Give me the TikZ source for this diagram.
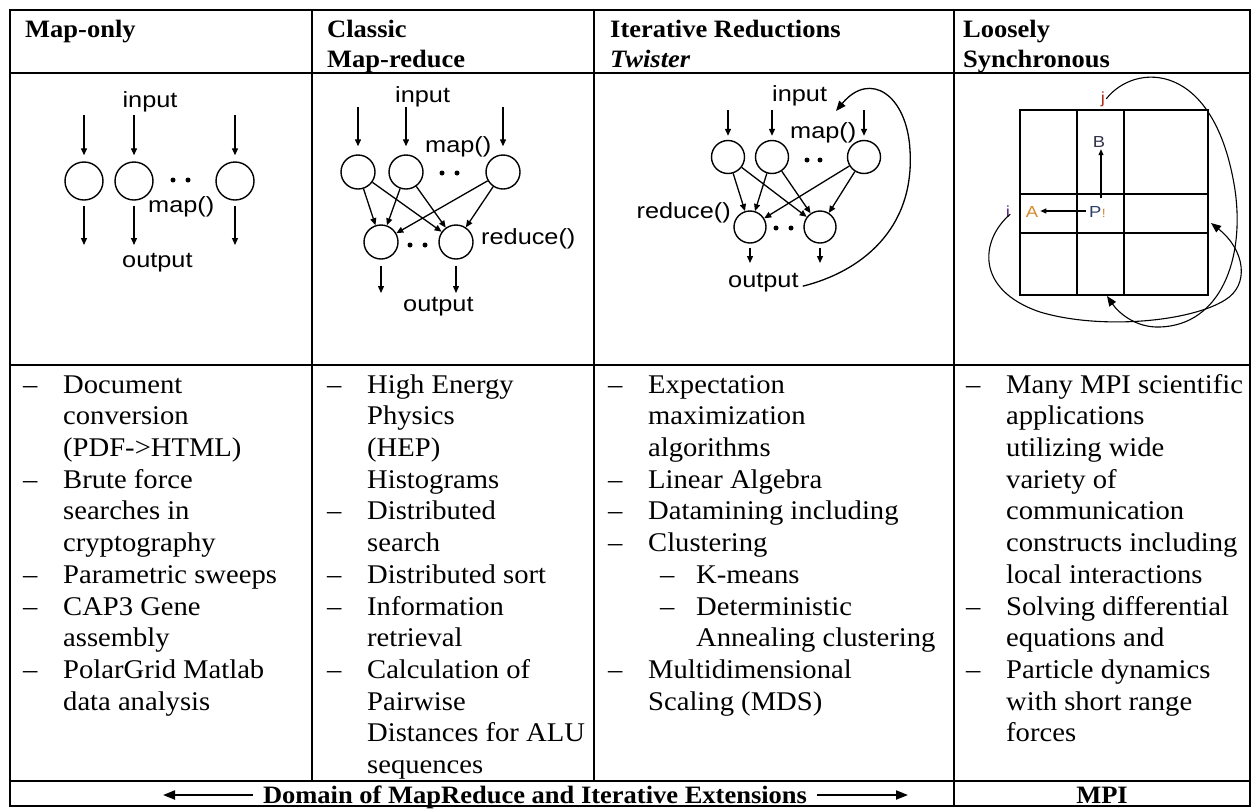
\documentclass[tikz,border=0pt]{standalone}
\usepackage{fontspec}
\setmainfont{Liberation Serif}[FakeStretch=1.06]
\newfontfamily\lblfont{Liberation Sans}[FakeStretch=1.15]
\usetikzlibrary{arrows.meta}

\definecolor{jred}{HTML}{B03020}
\definecolor{ipurple}{HTML}{5B2A86}
\definecolor{aorange}{HTML}{D4892A}
\definecolor{bnavy}{HTML}{33334D}
\definecolor{pnavy}{HTML}{2E3F6E}

\tikzset{
  tbl/.style={line width=2pt, line cap=rect},
  gridline/.style={line width=1.1pt},
  circ/.style={circle, draw, line width=1.4pt, inner sep=0pt, minimum size=#1},
  arr/.style={line width=1.3pt, -{Triangle[length=7pt,width=6pt]}},
  smallarr/.style={line width=1.1pt, -{Triangle[length=6pt,width=5pt]}},
  dot/.style={circle, fill, inner sep=0pt, minimum size=5pt},
  lbl/.style={font=\lblfont\fontsize{22}{24}\selectfont, inner sep=0pt},
  glbl/.style={font=\lblfont\fontsize{16}{18}\selectfont, inner sep=0pt},
  head/.style={font=\fontsize{25}{30}\selectfont\bfseries, inner sep=0pt, anchor=base west},
  body/.style={font=\fontsize{27}{31.7}\selectfont, inner sep=0pt, anchor=north west},
  bigarr/.style={line width=2pt, -{Triangle[length=12pt,width=9pt]}},
  loop/.style={line width=1.1pt, -{Triangle[length=10pt,width=8pt]}},
}

\begin{document}
\begin{tikzpicture}[x=1pt,y=-1pt]
\useasboundingbox (0,0) rectangle (1260,809);

% ---------- table frame ----------
\draw[tbl] (10,10) rectangle (1250,806);
\draw[tbl] (10,73) -- (1250,73);
\draw[tbl] (10,365) -- (1250,365);
\draw[tbl] (10,781) -- (1250,781);
\draw[tbl] (312,10) -- (312,781);
\draw[tbl] (594,10) -- (594,781);
\draw[tbl] (954,10) -- (954,806);

% ---------- headers ----------
\node[head] (h1) at (25,37) {Map-only};
\node[head] (h2a) at (327,37) {Classic};
\node[head] (h2b) at (327,67) {Map-reduce};
\node[head] (h3a) at (610,37) {Iterative Reductions};
\node[head] (h3b) at (610,67) {\itshape Twister};
\node[head] (h4a) at (963,37) {Loosely};
\node[head] (h4b) at (963,67) {Synchronous};

% ---------- map-only ----------
\node[lbl, anchor=base] (a_in) at (150,107) {input};
\foreach \n/\x in {1/84,2/134,3/235}{
  \node[circ=38pt] (a\n) at (\x,181) {};
  \coordinate (a\n i) at (\x,115);
  \coordinate (a\n o) at (\x,245);
  \draw[arr, shorten >=6pt] (a\n i) -- (a\n);
  \draw[arr, shorten <=5pt] (a\n) -- (a\n o);
}
\node[dot] (ad1) at (173,180) {};
\node[dot] (ad2) at (188,180) {};
\node[lbl, anchor=base west] (a_map) at (148,212) {map()};
\node[lbl, anchor=base west] (a_out) at (122,267) {output};

% ---------- classic map-reduce ----------
\node[lbl, anchor=base west] (b_in) at (395,102) {input};
\node[lbl, anchor=base west] (b_map) at (425,152) {map()};
\foreach \n/\x in {1/358,2/406,3/503}{
  \node[circ=34pt] (b\n) at (\x,172) {};
  \coordinate (b\n i) at (\x,107);
  \draw[arr, shorten >=8pt] (b\n i) -- (b\n);
}
\node[dot] (bd1) at (442,173) {};
\node[dot] (bd2) at (457,173) {};
\foreach \n/\x in {1/381,2/456}{
  \node[circ=34pt] (c\n) at (\x,242) {};
  \coordinate (c\n o) at (\x,293);
  \draw[arr, shorten <=6pt] (c\n) -- (c\n o);
}
\node[dot] (cd1) at (410,245) {};
\node[dot] (cd2) at (425,245) {};
\foreach \m in {1,2,3}{
  \foreach \r in {1,2}{
    \draw[arr] (b\m) -- (c\r);
  }
}
\node[lbl, anchor=base west] (c_red) at (481,244) {reduce()};
\node[lbl, anchor=base west] (c_out) at (403,311) {output};

% ---------- iterative reductions (Twister) ----------
\node[lbl, anchor=base west] (t_in) at (772,101) {input};
\node[lbl, anchor=base west] (t_map) at (790,138) {map()};
\foreach \n/\x in {1/728,2/772,3/864}{
  \node[circ=33pt] (t\n) at (\x,157) {};
  \coordinate (t\n i) at (\x,110);
  \draw[arr, shorten >=4pt] (t\n i) -- (t\n);
}
\node[dot] (td1) at (807,160) {};
\node[dot] (td2) at (820,160) {};
\foreach \n/\x in {1/750,2/820}{
  \node[circ=32pt] (u\n) at (\x,227) {};
  \coordinate (u\n o) at (\x,263);
  \draw[arr, shorten <=4pt] (u\n) -- (u\n o);
}
\node[dot] (ud1) at (776,228) {};
\node[dot] (ud2) at (791,228) {};
\foreach \m in {1,2,3}{
  \foreach \r in {1,2}{
    \draw[arr] (t\m) -- (u\r);
  }
}
\node[lbl, anchor=base east] (u_red) at (731,218) {reduce()};
\node[lbl, anchor=base west] (u_out) at (728,287) {output};
\coordinate (fbend) at (836,111);
\draw[loop, line width=1.3pt] ([xshift=4pt,yshift=-4pt]u_out.east) .. controls (860,272) and (915,230) .. (910,150)
   .. controls (907,95) and (870,70) .. (fbend);

% ---------- loosely synchronous grid ----------
\draw[gridline] (1020,110) rectangle (1208,295);
\draw[gridline] (1077,110) -- (1077,295);
\draw[gridline] (1124,110) -- (1124,295);
\draw[gridline] (1020,194) -- (1208,194);
\draw[gridline] (1020,233) -- (1208,233);

\node[glbl, text=jred, anchor=base] (gj) at (1103,103) {j};
\node[glbl, text=bnavy, anchor=base] (gB) at (1099,147) {B};
\node[glbl, text=pnavy, anchor=base west] (gP) at (1089,217) {P};
\node[glbl, text=aorange, anchor=base west, font=\lblfont\fontsize{12}{14}\selectfont] (gPs) at (gP.base east) {!};
\node[glbl, text=aorange, anchor=base] (gA) at (1032,217) {A};
\node[glbl, text=ipurple, anchor=base] (gi) at (1008,217) {i};
\coordinate (pB) at (1101,198);
\coordinate (pA) at (1086,211);
\draw[smallarr, shorten >=2pt] (pB) -- (pB |- gB.south);
\draw[smallarr, shorten >=2pt] (pA) -- (pA -| gA.east);

\coordinate (jend) at (1107,296);
\coordinate (iend) at (1211,223);
\draw[loop] ([xshift=1pt]gj.east) .. controls (1135,62) and (1215,60) .. (1235,190)
   .. controls (1245,260) and (1220,325) .. (1160,327)
   .. controls (1135,328) and (1118,312) .. (jend);
\draw[loop] ([yshift=3pt]gi.south east) .. controls (980,240) and (975,290) .. (1040,312)
   .. controls (1100,330) and (1190,322) .. (1225,300)
   .. controls (1250,285) and (1245,250) .. (iend);

% ---------- use-case lists ----------
\node[body] (l1) at (23,370.8) {\begin{tabular}{@{}p{40pt}@{}l@{}}
–&Document\\
&conversion\\
&(PDF->HTML)\\
–&Brute force\\
&searches in\\
&cryptography\\
–&Parametric sweeps\\
–&CAP3 Gene\\
&assembly\\
–&PolarGrid Matlab\\
&data analysis
\end{tabular}};

\node[body] (l2) at (327,370.8) {\begin{tabular}{@{}p{40pt}@{}l@{}}
–&High Energy\\
&Physics\\
&(HEP)\\
&Histograms\\
–&Distributed\\
&search\\
–&Distributed sort\\
–&Information\\
&retrieval\\
–&Calculation of\\
&Pairwise\\
&Distances for ALU\\
&sequences
\end{tabular}};

\node[body] (l3) at (608,370.8) {\begin{tabular}{@{}p{40pt}@{}l@{}}
–&Expectation\\
&maximization\\
&algorithms\\
–&Linear Algebra\\
–&Datamining including\\
–&Clustering\\
&\hspace*{12pt}\makebox[36pt][l]{–}K-means\\
&\hspace*{12pt}\makebox[36pt][l]{–}Deterministic\\
&\hspace*{48pt}Annealing clustering\\
–&Multidimensional\\
&Scaling (MDS)
\end{tabular}};

\node[body] (l4) at (966,370.8) {\begin{tabular}{@{}p{40pt}@{}l@{}}
–&Many MPI scientific\\
&applications\\
&utilizing wide\\
&variety of\\
&communication\\
&constructs including\\
&local interactions\\
–&Solving differential\\
&equations and\\
–&Particle dynamics\\
&with short range\\
&forces
\end{tabular}};

% ---------- bottom row ----------
\node[head, anchor=base] (dom) at (535,803) {Domain of MapReduce and Iterative Extensions};
\coordinate (tipL) at (163,795);
\coordinate (tipR) at (908,795);
\draw[bigarr] ([xshift=-10pt]dom.west |- tipL) -- (tipL);
\draw[bigarr] ([xshift=10pt]dom.east |- tipR) -- (tipR);
\node[head, anchor=base] (mpi) at (1102,803) {MPI};
\end{tikzpicture}
\end{document}
